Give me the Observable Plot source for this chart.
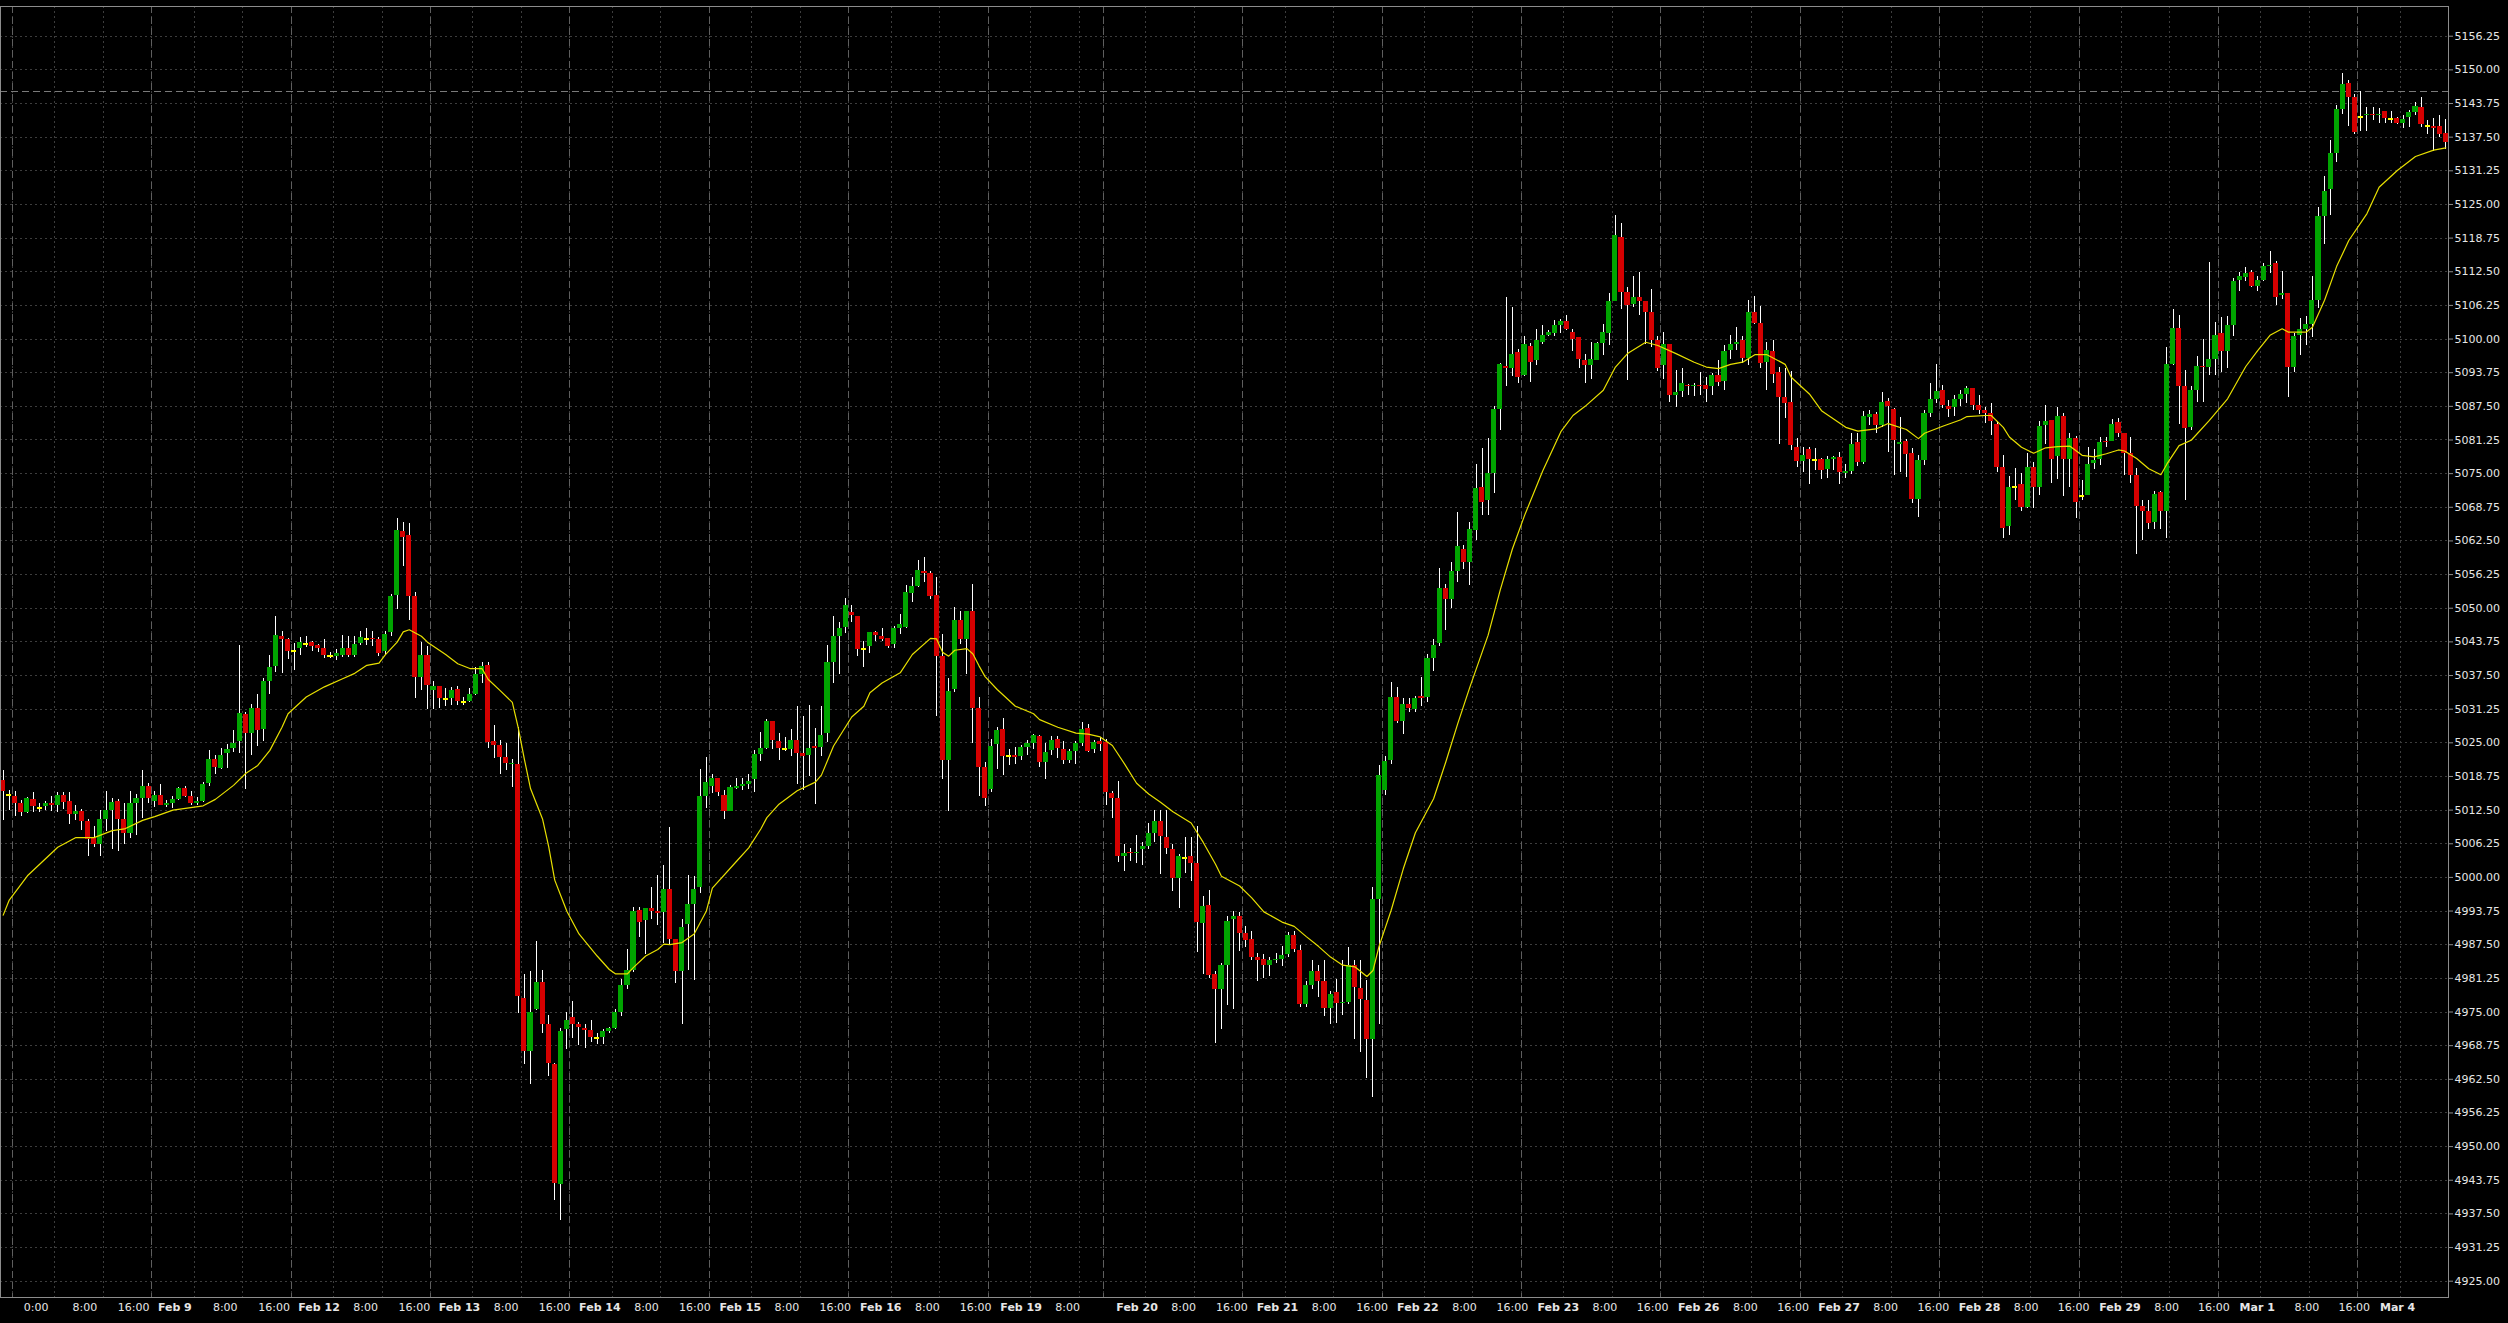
<!DOCTYPE html>
<html><head><meta charset="utf-8">
<script src="https://cdn.jsdelivr.net/npm/d3@7"></script>
<script src="https://cdn.jsdelivr.net/npm/@observablehq/plot@0.6"></script>
<style>
html,body{margin:0;padding:0;background:#000;overflow:hidden;}
#chart svg{display:block;}
</style></head><body>
<div id="chart"></div>
<script>
// Hourly candles, bar 0 = Feb 7 22:00 ... bar 403 = Mar 4 10:00
const open = [
5018.0,5015.4,5015.0,5013.8,5012.0,5014.4,5012.9,5013.1,5013.8,5013.4,
5015.2,5014.1,5011.7,5012.3,5010.4,5007.3,5006.2,5010.8,5012.5,5014.1,
5010.8,5008.2,5013.8,5014.7,5016.8,5014.1,5015.2,5013.3,5013.8,5014.5,
5016.5,5015.1,5013.8,5014.1,5017.5,5021.9,5020.3,5023.1,5023.9,5025.3,
5030.2,5026.8,5031.4,5027.5,5036.4,5039.1,5044.8,5044.1,5042.1,5042.6,
5043.3,5043.7,5043.0,5042.6,5041.1,5041.1,5041.3,5042.6,5041.3,5043.5,
5044.3,5044.4,5044.2,5041.9,5045.5,5052.3,5064.3,5063.6,5052.1,5037.1,
5041.3,5034.8,5035.5,5033.1,5033.3,5034.9,5032.5,5032.7,5034.0,5037.7,
5039.4,5025.2,5024.5,5022.2,5020.9,5021.0,4977.6,4967.6,4975.5,4980.4,
4972.7,4965.3,4943.0,4971.7,4974.0,4972.6,4971.9,4971.6,4970.2,4970.3,
4971.3,4972.0,4975.0,4979.9,4982.7,4993.8,4992.0,4994.2,4993.7,4993.5,
4997.8,4988.5,4982.5,4991.2,4994.9,4998.2,5015.1,5016.9,5018.3,5015.2,
5012.3,5016.5,5016.9,5017.2,5018.2,5022.9,5023.9,5028.9,5025.2,5023.8,
5023.8,5025.4,5023.1,5022.6,5024.4,5024.1,5026.7,5040.0,5044.8,5046.5,
5049.2,5048.4,5042.4,5042.9,5045.4,5044.8,5044.3,5043.2,5046.3,5046.5,
5052.7,5054.1,5056.9,5056.5,5052.3,5041.1,5021.7,5034.9,5047.7,5044.1,
5049.4,5031.4,5020.5,5016.4,5024.7,5027.5,5022.5,5022.6,5022.5,5024.1,
5024.9,5026.1,5021.4,5023.5,5025.6,5023.8,5021.8,5023.4,5024.8,5027.7,
5023.8,5025.3,5025.0,5015.5,5014.6,5003.8,5004.7,5004.5,5005.2,5005.8,
5008.1,5010.3,5007.4,5005.2,4999.8,5003.6,5003.8,5002.5,4991.5,4994.8,
4981.9,4979.2,4983.7,4992.1,4992.7,4989.6,4988.4,4985.1,4984.8,4983.6,
4984.5,4984.8,4985.7,4989.3,4986.4,4976.4,4980.0,4982.5,4980.6,4975.6,
4978.6,4976.5,4976.8,4983.7,4979.3,4977.1,4969.9,4995.9,5016.2,5021.8,
5033.4,5029.0,5032.2,5031.1,5033.6,5033.4,5040.7,5043.5,5053.6,5051.7,
5056.8,5061.0,5058.5,5064.5,5072.5,5070.0,5075.0,5087.0,5094.9,5094.6,
5097.5,5093.2,5098.7,5096.0,5099.4,5100.6,5101.1,5102.5,5103.3,5101.2,
5100.3,5096.1,5095.0,5096.0,5099.1,5101.1,5107.0,5118.9,5108.7,5106.4,
5107.8,5107.0,5105.0,5099.7,5095.0,5099.0,5089.6,5090.3,5091.4,5091.1,
5091.4,5091.4,5091.1,5093.2,5092.1,5097.9,5099.0,5099.7,5096.3,5104.9,
5102.8,5095.7,5097.7,5093.8,5089.2,5088.2,5079.9,5077.3,5079.5,5077.6,
5077.7,5075.7,5077.7,5078.0,5075.1,5075.4,5080.7,5077.0,5085.5,5085.9,
5083.9,5088.4,5086.9,5080.4,5081.0,5078.7,5070.2,5077.4,5086.1,5088.7,
5090.5,5087.5,5087.3,5088.7,5089.7,5090.9,5087.6,5086.8,5086.1,5084.1,
5076.1,5065.1,5072.5,5073.0,5068.8,5076.1,5072.4,5083.9,5084.9,5078.1,
5085.6,5077.7,5081.5,5070.8,5070.9,5076.9,5077.6,5081.0,5081.0,5084.5,
5082.4,5078.8,5074.7,5068.9,5067.9,5066.0,5071.5,5068.0,5095.3,5102.0,
5091.2,5083.5,5090.5,5094.9,5094.7,5096.2,5101.0,5097.6,5102.5,5110.8,
5111.5,5112.4,5109.8,5110.9,5113.4,5114.1,5108.0,5108.4,5094.8,5100.6,
5101.7,5102.7,5107.2,5122.8,5127.8,5134.4,5142.6,5147.4,5144.9,5141.3,
5141.5,5141.8,5141.5,5142.3,5140.8,5141.0,5140.1,5141.1,5142.0,5143.1,
5139.5,5139.5,5139.5,5138.2];
const high = [
5019.9,5016.2,5016.0,5014.3,5014.9,5015.8,5013.8,5014.1,5015.0,5015.8,
5015.8,5015.8,5013.4,5012.6,5010.8,5009.4,5012.5,5016.0,5014.7,5014.5,
5013.8,5016.0,5015.4,5019.9,5017.4,5015.9,5017.3,5014.3,5015.1,5016.7,
5016.8,5016.0,5014.9,5017.6,5023.5,5022.7,5023.9,5024.7,5027.2,5043.0,
5030.7,5032.2,5034.0,5036.9,5041.3,5048.5,5045.7,5044.4,5043.5,5044.5,
5044.8,5043.9,5043.3,5044.2,5041.7,5042.3,5045.0,5044.8,5044.8,5045.7,
5046.3,5045.7,5044.6,5045.7,5052.6,5066.6,5066.0,5065.8,5053.0,5043.6,
5042.8,5036.3,5035.5,5035.1,5035.3,5035.4,5033.5,5035.0,5039.0,5039.9,
5039.9,5028.2,5025.4,5024.8,5021.9,5027.8,4981.9,4982.6,4988.1,4982.7,
4974.3,4965.5,4972.0,4975.0,4976.9,4973.1,4972.7,4973.4,4971.1,4971.8,
4972.1,4975.5,4981.0,4986.6,4994.5,4994.5,4994.3,4998.2,5000.3,5002.2,
5009.2,4988.5,4992.2,5000.3,5000.2,5020.1,5022.3,5019.1,5018.3,5016.1,
5017.1,5018.3,5018.3,5019.1,5023.5,5027.0,5029.3,5028.9,5026.7,5026.0,
5027.5,5031.7,5029.8,5032.0,5027.7,5031.8,5043.0,5048.4,5047.4,5051.9,
5050.6,5048.4,5043.8,5045.5,5045.7,5046.2,5044.3,5046.6,5048.8,5054.2,
5055.7,5058.8,5059.4,5056.9,5055.7,5045.1,5037.0,5050.1,5049.4,5049.4,
5054.4,5033.5,5021.4,5025.7,5027.9,5029.5,5023.8,5024.1,5024.5,5025.4,
5026.6,5026.3,5024.8,5026.1,5026.1,5025.2,5023.7,5025.2,5028.8,5028.4,
5025.4,5025.9,5025.6,5016.0,5017.9,5006.1,5005.4,5007.7,5006.5,5010.1,
5012.4,5012.4,5012.4,5006.1,5004.3,5007.4,5007.4,5009.4,4996.4,4997.5,
4982.5,4984.1,4992.7,4993.6,4993.5,4990.9,4989.9,4985.8,4985.6,4985.2,
4985.8,4987.2,4989.7,4989.9,4987.3,4980.7,4984.5,4983.6,4984.5,4978.9,
4981.0,4984.6,4987.0,4984.5,4984.5,4980.9,4998.1,5020.7,5022.5,5036.2,
5035.3,5033.3,5033.3,5033.6,5037.1,5041.4,5044.1,5057.4,5054.5,5058.5,
5067.8,5061.7,5066.0,5076.7,5079.6,5081.6,5087.5,5095.4,5107.7,5105.8,
5098.1,5100.5,5099.1,5101.8,5102.5,5101.6,5103.5,5103.6,5104.3,5101.8,
5100.3,5097.1,5099.4,5099.4,5102.7,5108.5,5123.0,5121.4,5109.5,5111.6,
5112.4,5107.0,5109.2,5100.4,5101.2,5099.0,5094.2,5094.5,5091.6,5091.7,
5093.8,5092.8,5093.6,5096.0,5098.8,5100.7,5102.1,5100.4,5107.2,5107.9,
5106.1,5099.4,5099.7,5094.7,5094.5,5093.9,5081.6,5079.9,5079.8,5079.6,
5077.9,5078.2,5078.2,5078.9,5076.7,5082.5,5082.5,5086.6,5086.7,5086.4,
5090.0,5089.0,5087.1,5085.5,5081.3,5079.6,5078.4,5086.7,5091.8,5095.3,
5091.3,5088.6,5089.5,5090.4,5091.1,5090.9,5089.5,5087.3,5088.1,5084.6,
5078.4,5074.5,5075.9,5075.1,5078.7,5077.1,5084.6,5087.7,5084.9,5087.2,
5086.1,5082.5,5081.9,5073.7,5079.8,5079.4,5081.8,5081.8,5085.0,5085.2,
5082.4,5081.8,5075.9,5070.0,5070.1,5071.7,5071.7,5098.4,5105.4,5104.4,
5094.2,5091.2,5096.8,5100.0,5114.3,5103.1,5104.0,5104.1,5111.2,5112.4,
5113.2,5112.7,5111.6,5114.1,5116.3,5114.4,5112.6,5108.4,5101.1,5103.9,
5104.2,5111.6,5124.5,5130.2,5136.9,5143.4,5149.4,5148.0,5145.4,5146.0,
5143.1,5143.1,5142.9,5142.3,5142.3,5141.2,5141.5,5142.4,5143.9,5144.8,
5140.6,5140.9,5141.5,5140.7];
const low = [
5010.6,5012.5,5011.4,5011.4,5011.8,5012.0,5012.0,5012.5,5012.3,5012.1,
5012.6,5009.9,5010.6,5008.7,5003.8,5005.6,5003.8,5008.5,5005.2,5004.9,
5006.1,5007.3,5007.8,5010.9,5013.7,5013.0,5013.3,5013.0,5012.8,5014.2,
5014.9,5013.3,5013.3,5013.9,5016.8,5019.1,5020.0,5020.3,5023.2,5023.0,
5016.4,5022.7,5024.4,5025.2,5034.0,5038.1,5037.8,5040.4,5038.5,5041.2,
5042.7,5042.0,5041.8,5040.7,5040.6,5040.3,5040.8,5040.8,5040.8,5043.0,
5043.1,5042.8,5041.0,5041.2,5044.7,5049.7,5057.7,5047.8,5033.3,5034.8,
5031.2,5031.2,5031.4,5031.7,5031.9,5032.0,5032.0,5032.5,5033.8,5036.1,
5023.9,5022.0,5019.2,5019.9,5016.7,4974.8,4965.3,4961.5,4975.3,4971.1,
4963.0,4940.0,4936.3,4968.0,4970.1,4968.8,4968.2,4969.3,4969.0,4969.0,
4971.1,4971.7,4974.1,4979.2,4982.3,4988.9,4985.7,4992.2,4991.0,4987.7,
4987.3,4980.3,4972.6,4982.7,4980.8,4997.0,5012.8,5015.5,5015.0,5010.7,
5012.2,5016.3,5016.1,5016.3,5015.7,5021.5,5023.7,5023.7,5021.7,5023.3,
5022.5,5017.3,5016.1,5018.7,5013.6,5022.4,5025.0,5036.0,5037.6,5045.3,
5047.3,5041.1,5039.0,5041.6,5043.9,5043.9,5042.6,5042.6,5045.1,5046.3,
5051.1,5053.8,5054.8,5051.7,5029.8,5018.2,5012.3,5034.3,5043.3,5037.6,
5024.8,5015.1,5013.1,5015.8,5020.0,5018.9,5020.7,5021.0,5021.7,5022.7,
5023.8,5020.5,5018.1,5022.6,5022.1,5021.0,5021.2,5021.0,5024.3,5023.2,
5023.0,5023.4,5013.3,5011.0,5002.7,5001.1,5002.9,5002.5,5002.2,5005.2,
5006.5,5000.6,5004.3,4997.4,4994.2,5000.7,4999.3,4986.1,4981.9,4981.3,
4969.1,4971.8,4976.2,4975.5,4986.3,4987.0,4984.5,4980.7,4981.3,4981.6,
4984.0,4983.4,4985.2,4986.1,4975.9,4975.9,4979.1,4977.7,4974.1,4972.6,
4972.9,4974.4,4976.4,4969.9,4967.5,4962.7,4959.2,4972.6,5015.3,5020.9,
5028.6,5026.6,5030.6,5030.6,5031.7,5032.4,5038.2,5042.8,5045.9,5049.9,
5054.7,5057.2,5054.3,5062.6,5067.2,5067.2,5071.3,5083.0,5091.2,5093.1,
5091.8,5093.1,5092.0,5095.1,5099.0,5100.4,5100.4,5101.1,5101.5,5097.7,
5094.6,5091.8,5092.5,5096.0,5097.0,5098.8,5106.9,5105.5,5092.3,5105.9,
5104.3,5099.0,5098.4,5093.9,5092.4,5088.2,5087.2,5089.2,5089.5,5089.4,
5089.5,5088.2,5089.5,5091.1,5090.5,5096.2,5097.9,5095.5,5095.1,5102.7,
5094.5,5090.5,5091.8,5080.4,5085.3,5079.3,5076.1,5075.3,5072.9,5075.6,
5073.9,5074.1,5075.5,5072.9,5074.1,5074.8,5076.3,5076.7,5084.0,5082.4,
5083.5,5079.0,5074.6,5075.2,5074.2,5069.4,5066.8,5076.5,5085.5,5088.0,
5087.1,5085.5,5085.6,5087.5,5088.0,5086.7,5086.0,5084.4,5082.1,5075.3,
5062.9,5063.5,5070.1,5067.9,5068.5,5068.5,5071.0,5080.5,5073.2,5073.9,
5070.8,5072.5,5066.6,5070.0,5070.9,5075.7,5076.5,5079.9,5081.0,5081.7,
5074.7,5073.1,5060.0,5062.6,5064.6,5064.6,5064.6,5062.9,5095.1,5084.1,
5070.0,5083.1,5088.3,5088.3,5093.2,5093.2,5093.8,5094.5,5100.5,5108.9,
5110.6,5109.6,5108.9,5110.7,5112.1,5106.2,5107.4,5089.1,5093.8,5096.9,
5098.8,5100.3,5105.6,5117.6,5122.9,5132.8,5141.7,5139.5,5138.0,5138.6,
5138.6,5140.6,5140.1,5140.0,5140.0,5139.8,5139.2,5139.3,5141.5,5139.3,
5138.0,5134.9,5137.5,5135.3];
const close = [
5015.9,5015.4,5013.8,5012.0,5014.6,5013.1,5012.9,5013.8,5013.4,5015.2,
5014.0,5011.7,5012.3,5010.3,5007.0,5006.2,5010.8,5012.5,5014.0,5010.8,
5008.2,5013.8,5014.7,5016.8,5014.7,5015.2,5013.3,5013.8,5014.5,5016.5,
5015.1,5013.8,5014.1,5017.3,5021.9,5020.5,5022.7,5023.8,5024.8,5030.4,
5026.8,5031.3,5027.2,5036.4,5039.0,5045.0,5044.2,5042.0,5042.1,5043.7,
5043.3,5042.8,5042.6,5041.3,5041.1,5041.5,5042.6,5041.3,5043.3,5044.5,
5044.3,5044.1,5041.5,5045.2,5052.1,5064.5,5063.2,5052.1,5037.2,5041.3,
5035.7,5035.4,5033.3,5033.1,5034.8,5032.7,5032.5,5034.0,5037.7,5039.2,
5025.0,5024.5,5022.2,5021.2,5021.2,4977.8,4967.6,4975.0,4980.4,4972.7,
4965.5,4943.1,4971.3,4973.5,4972.6,4972.1,4971.5,4970.3,4970.2,4971.3,
4972.0,4975.0,4980.0,4982.7,4993.7,4991.6,4994.2,4993.7,4993.3,4997.8,
4988.5,4982.5,4990.7,4994.9,4997.8,5015.1,5017.6,5018.3,5015.8,5012.3,
5016.7,5016.9,5017.2,5017.9,5022.9,5023.9,5028.9,5025.4,5024.0,5023.8,
5025.4,5023.1,5022.4,5024.0,5023.9,5026.3,5039.9,5044.7,5046.3,5050.6,
5048.6,5042.4,5042.4,5045.4,5045.0,5044.2,5042.9,5046.3,5046.9,5052.9,
5054.1,5057.0,5056.5,5052.1,5041.1,5021.7,5034.6,5047.7,5044.1,5049.4,
5031.3,5020.5,5014.6,5024.3,5027.2,5022.5,5022.5,5022.3,5024.1,5024.8,
5026.3,5021.4,5023.2,5025.4,5024.0,5021.8,5023.4,5024.8,5027.5,5023.4,
5025.0,5024.7,5015.7,5014.6,5003.8,5004.5,5004.5,5004.7,5005.8,5008.1,
5010.4,5007.6,5005.4,4999.8,5003.8,5003.6,5002.6,4991.7,4994.6,4981.8,
4979.2,4983.7,4991.9,4992.7,4989.6,4988.2,4985.1,4984.6,4983.6,4984.5,
4984.8,4985.5,4989.3,4986.6,4976.4,4980.0,4982.5,4980.6,4975.6,4978.3,
4976.5,4976.8,4983.7,4979.5,4977.3,4969.9,4995.9,5019.0,5021.6,5033.4,
5029.0,5032.2,5031.3,5033.3,5033.3,5040.7,5043.0,5053.6,5051.7,5056.8,
5061.4,5058.5,5064.6,5072.3,5069.7,5075.0,5087.0,5095.3,5094.6,5097.1,
5092.9,5099.0,5095.7,5099.7,5100.6,5101.3,5102.5,5103.3,5101.8,5099.9,
5096.2,5095.0,5096.2,5099.1,5101.2,5107.0,5119.2,5108.7,5106.2,5107.8,
5106.9,5105.0,5099.7,5094.6,5099.0,5089.6,5090.0,5091.8,5091.1,5091.4,
5091.1,5090.6,5093.2,5092.0,5097.7,5098.9,5099.4,5096.3,5104.9,5102.8,
5095.5,5097.8,5093.5,5089.2,5088.1,5080.2,5077.3,5078.3,5077.6,5077.6,
5075.5,5077.7,5078.0,5075.3,5075.4,5080.4,5077.0,5085.6,5085.9,5083.9,
5088.2,5087.4,5081.1,5080.7,5078.5,5070.2,5077.5,5086.1,5088.7,5090.3,
5087.6,5087.0,5088.7,5089.7,5090.9,5087.6,5086.8,5086.2,5084.6,5076.2,
5064.8,5072.4,5072.5,5068.8,5076.1,5072.4,5083.8,5084.6,5077.7,5085.6,
5077.7,5081.6,5069.7,5070.8,5076.7,5077.4,5080.8,5080.7,5084.1,5082.5,
5078.8,5074.7,5068.9,5068.0,5065.8,5071.1,5067.9,5095.3,5102.0,5091.2,
5083.3,5090.5,5094.9,5094.7,5096.2,5100.7,5097.7,5102.5,5110.7,5111.6,
5112.1,5109.8,5110.9,5113.5,5113.6,5107.8,5108.4,5094.8,5100.5,5101.7,
5102.7,5107.2,5122.8,5127.4,5134.4,5142.6,5147.3,5144.9,5138.4,5141.3,
5141.8,5141.5,5141.8,5141.0,5140.8,5140.1,5140.7,5142.0,5143.2,5139.8,
5139.5,5139.2,5138.0,5136.6];

// Moving average (yellow line), read at these bars
const maBar = [0,1,4,9,12,15,18,20,23,25,28,33,35,38,40,42,44,46,47,50,53,56,58,60,62,63,65,66,67,69,70,73,75,77,79,
80,82,84,85,86,87,89,90,91,92,93,95,98,100,101,103,104,106,108,109,110,112,114,116,117,121,123,125,126,128,131,134,135,137,140,142,143,145,148,150,153,154,155,156,157,159,
160,161,162,164,167,170,171,174,177,179,181,183,185,187,189,191,193,196,198,200,201,204,206,208,211,213,215,217,219,221,223,225,226,227,229,231,233,236,238,240,242,
245,247,249,251,254,257,259,261,264,266,268,271,273,276,279,281,283,285,287,289,291,294,295,298,300,304,306,309,311,314,316,317,320,
323,324,327,328,330,331,333,335,337,339,341,343,345,347,349,350,352,354,356,357,359,361,364,367,370,372,374,376,377,380,381,383,385,387,390,392,395,398,401,403];
const maValue = [4993.0,4995.8,5000.3,5005.6,5007.4,5007.4,5008.7,5009.0,5010.6,5011.3,5012.5,5013.3,5014.5,5017.1,5019.3,5020.8,5023.6,5027.9,5030.4,5033.5,5035.4,5036.9,5037.9,5039.4,5039.8,5041.3,5043.7,5045.6,5046.0,5044.8,5043.7,5041.4,5039.7,5038.8,5038.8,
5036.8,5034.7,5032.5,5027.7,5021.9,5016.5,5010.8,5005.7,4999.5,4996.6,4993.7,4989.5,4985.4,4982.9,4982.1,4982.1,4983.3,4985.4,4986.6,4987.6,4987.5,4987.9,4989.5,4993.7,4998.0,5003.0,5005.5,5009.0,5011.1,5013.6,5016.1,5017.7,5019.0,5024.4,5029.8,5031.8,5034.3,5036.1,5038.0,5041.4,5044.4,5044.3,5041.8,5041.1,5042.2,5042.5,
5041.5,5039.3,5037.3,5034.9,5031.8,5030.4,5029.3,5027.9,5026.8,5026.6,5026.1,5024.5,5021.1,5017.5,5015.5,5013.9,5012.2,5010.1,5006.5,5002.5,5000.2,4998.4,4996.2,4993.6,4991.7,4990.9,4989.0,4987.2,4985.2,4983.7,4983.4,4981.6,4982.7,4987.2,4993.9,5001.6,5008.3,5014.6,5021.4,5028.6,5035.4,
5045.0,5053.4,5061.0,5067.2,5075.5,5082.8,5085.8,5087.5,5090.5,5094.8,5097.3,5099.4,5098.8,5097.3,5095.7,5094.8,5094.5,5095.3,5095.7,5097.1,5097.1,5095.3,5092.9,5089.8,5086.7,5083.6,5082.9,5083.3,5084.3,5083.2,5081.5,5082.5,5083.8,
5085.0,5085.6,5085.8,5085.8,5083.6,5081.8,5079.9,5078.8,5079.8,5080.0,5080.1,5078.4,5078.1,5078.7,5079.4,5079.2,5077.8,5075.9,5074.8,5076.8,5080.2,5081.2,5084.9,5088.9,5094.9,5097.9,5100.7,5101.9,5101.3,5101.3,5102.2,5107.2,5113.5,5118.3,5123.3,5128.2,5131.3,5133.9,5135.1,5135.5];

const yTicks = [4925.00,4931.25,4937.50,4943.75,4950.00,4956.25,4962.50,4968.75,4975.00,4981.25,4987.50,4993.75,
5000.00,5006.25,5012.50,5018.75,5025.00,5031.25,5037.50,5043.75,5050.00,5056.25,5062.50,5068.75,5075.00,5081.25,
5087.50,5093.75,5100.00,5106.25,5112.50,5118.75,5125.00,5131.25,5137.50,5143.75,5150.00,5156.25];

const dateBar = [25,48,71,94,117,140,163,182,205,228,251,274,297,320,343,366,389];
const dateLabel = ["Feb 9","Feb 12","Feb 13","Feb 14","Feb 15","Feb 16","Feb 19","Feb 20","Feb 21","Feb 22","Feb 23","Feb 26","Feb 27","Feb 28","Feb 29","Mar 1","Mar 4"];
const timeBar = [2,9,17,32,40,55,63,78,86,101,109,124,132,147,155,170,178,189,197,212,220,235,243,258,266,281,289,304,312,327,335,350,358,373,381,396];
const timeLabel = ["0:00","8:00","16:00","8:00","16:00","8:00","16:00","8:00","16:00","8:00","16:00","8:00","16:00","8:00","16:00","8:00","","8:00","16:00","8:00","16:00","8:00","16:00","8:00","16:00","8:00","16:00","8:00","16:00","8:00","16:00","8:00","16:00","8:00","16:00",""];
const firstSessionBar = 2;
const levelPrice = 5146.0;

// ---- build
const candles = open.map((o, i) => ({i, o, h: high[i], l: low[i], c: close[i]}));
const bodies = candles.filter(d => d.o !== d.c).map(d => {
  const top = Math.max(d.o, d.c);
  let bot = Math.min(d.o, d.c);
  if (top - bot < 0.19) bot = top - 0.19;
  return {...d, top, bot, up: d.c > d.o};
});
const dojis = candles.filter(d => d.o === d.c);
const ma = maBar.map((b, k) => ({i: b, v: maValue[k]}));
const gridBars = [...timeBar, ...dateBar];
const sepBars = [firstSessionBar, ...dateBar];

// label placement: text starts a little right of its grid line (offset grows slightly to the right, as in the source)
const BAR_PX = 6.061;
const gx = b => 2.7 + (b - 0.5) * BAR_PX;
const labelShift = (b, t) => {
  const x = gx(b);
  let px;
  if (t === "0:00") px = 11.5;
  else if (t === "8:00") px = 17.4 + 0.0072 * x;
  else if (t === "16:00") px = 14.0 + 0.0065 * x;
  else px = 5.1 + 0.0072 * x;
  return b - 0.5 + px / BAR_PX;
};
const dates = dateBar.map((b, k) => ({x: labelShift(b, dateLabel[k]), t: dateLabel[k]}));
const times = timeBar.map((b, k) => ({x: labelShift(b, timeLabel[k]), t: timeLabel[k]})).filter(d => d.t);

const UP = "#00a400", DOWN = "#d50000";
const TXT = "#e6e6e6";

const chart = Plot.plot({
  width: 2508, height: 1323,
  marginLeft: 0, marginRight: 60, marginTop: 6, marginBottom: 26,
  style: {background: "#000", color: TXT, fontFamily: "'DejaVu Sans', sans-serif", fontSize: "11px"},
  x: {type: "linear", domain: [-0.4455, 403.45], axis: null},
  y: {type: "linear", domain: [4921.97, 5161.77], axis: null},
  marks: [
    Plot.ruleY(yTicks, {stroke: "#3d3d3d", strokeDasharray: "2,3", shapeRendering: "crispEdges"}),
    Plot.ruleX(gridBars, {x: d => d - 0.5, stroke: "#3d3d3d", strokeDasharray: "2,3", shapeRendering: "crispEdges"}),
    Plot.ruleX(sepBars, {x: d => d - 0.5, stroke: "#5e5e5e", strokeDasharray: "7,4", shapeRendering: "crispEdges"}),
    Plot.ruleY([levelPrice], {stroke: "#7a7a7a", strokeDasharray: "7,4", shapeRendering: "crispEdges"}),
    Plot.ruleX(candles, {x: "i", y1: d => Math.min(d.l, d.o, d.c), y2: d => Math.max(d.h, d.o, d.c), stroke: "#ffffff", strokeWidth: 1, shapeRendering: "crispEdges"}),
    Plot.rect(bodies, {x1: d => d.i - 0.42, x2: d => d.i + 0.42, y1: "bot", y2: "top", fill: d => d.up ? UP : DOWN, shapeRendering: "crispEdges"}),
    Plot.ruleY(dojis, {y: "c", x1: d => d.i - 0.42, x2: d => d.i + 0.42, stroke: "#ffff00", strokeWidth: 2, shapeRendering: "crispEdges"}),
    Plot.line(ma, {x: "i", y: "v", stroke: "#e8e000", strokeWidth: 1.2}),
    Plot.frame({stroke: "#8c8c8c"}),
    Plot.axisY(yTicks, {anchor: "right", label: null, tickFormat: d => d.toFixed(2), tickSize: 4, tickPadding: 2, stroke: "#8c8c8c", fill: TXT, fontSize: 11}),
    Plot.text(times, {x: "x", text: "t", frameAnchor: "bottom", dy: 13, textAnchor: "start", fill: TXT, fontSize: 11}),
    Plot.text(dates, {x: "x", text: "t", frameAnchor: "bottom", dy: 13, textAnchor: "start", fill: TXT, fontSize: 11, fontWeight: "bold"})
  ]
});
document.getElementById("chart").appendChild(chart);
</script>
</body></html>
